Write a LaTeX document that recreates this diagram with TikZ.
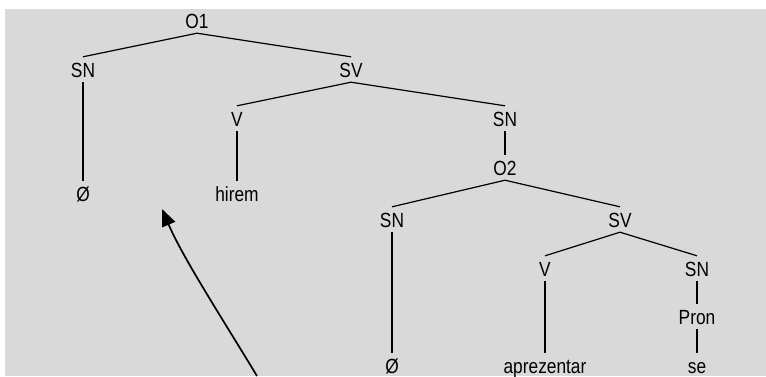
\documentclass[tikz,border=0pt]{standalone}
\usepackage{fontspec}
\setmainfont{Liberation Sans}[FakeStretch=0.845]
\usetikzlibrary{arrows.meta}
\definecolor{panel}{HTML}{D9D9D9}
\begin{document}
\begin{tikzpicture}[x=1pt,y=-1pt,
  lab/.style={anchor=base, font=\fontsize{20.5}{24}\selectfont,
    text height=15pt, text depth=0pt, inner xsep=2pt, inner ysep=5pt},
  branch/.style={line width=1.2pt},
  stem/.style={line width=2pt},
  tracearrow/.style={line width=1.7pt},
  headtip/.tip={Triangle[length=17pt,width=14pt]}
]
\useasboundingbox (0,0) rectangle (766,376);
\fill[white] (0,0) rectangle (766,376);
\fill[panel] (5,9) rectangle (766,376);

% tree nodes (x = centre, y = baseline)
\node[lab] (O1)   at (197,28)  {O1};
\node[lab] (SN1)  at (83,77)   {SN};
\node[lab] (SV1)  at (351,77)  {SV};
\node[lab] (V1)   at (237,126) {V};
\node[lab] (SN2)  at (505,126) {SN};
\node[lab] (O2)   at (505,175) {O2};
\node[lab] (E1)   at (83,201)  {Ø};
\node[lab] (hir)  at (237,201) {hirem};
\node[lab] (SN3)  at (392,227) {SN};
\node[lab] (SV2)  at (620,227) {SV};
\node[lab] (V2)   at (545,276) {V};
\node[lab] (SN4)  at (697,276) {SN};
\node[lab] (Pron) at (697,324) {Pron};
\node[lab] (E2)   at (392,373) {Ø};
\node[lab] (apr)  at (545,373) {aprezentar};
\node[lab] (se)   at (697,373) {se};

% branching
\draw[branch] (O1.south) -- (SN1.north);
\draw[branch] (O1.south) -- (SV1.north);
\draw[branch] (SV1.south) -- (V1.north);
\draw[branch] (SV1.south) -- (SN2.north);
\draw[branch] (O2.south) -- (SN3.north);
\draw[branch] (O2.south) -- (SV2.north);
\draw[branch] (SV2.south) -- (V2.north);
\draw[branch] (SV2.south) -- (SN4.north);

% unary stems
\draw[stem] (SN1.south) -- (E1.north);
\draw[stem] (V1.south) -- (hir.north);
\draw[stem] (SN2.south) -- (O2.north);
\draw[stem] (SN3.south) -- (E2.north);
\draw[stem] (V2.south) -- (apr.north);
\draw[stem] (SN4.south) -- (Pron.north);
\draw[stem] (Pron.south) -- (se.north);

% movement arrow
\coordinate (tail) at (257,376);
\coordinate (tip) at (162,209);
\draw[tracearrow, -headtip] (tail) .. controls (222,318) and (183,258) .. (tip);
\end{tikzpicture}
\end{document}
